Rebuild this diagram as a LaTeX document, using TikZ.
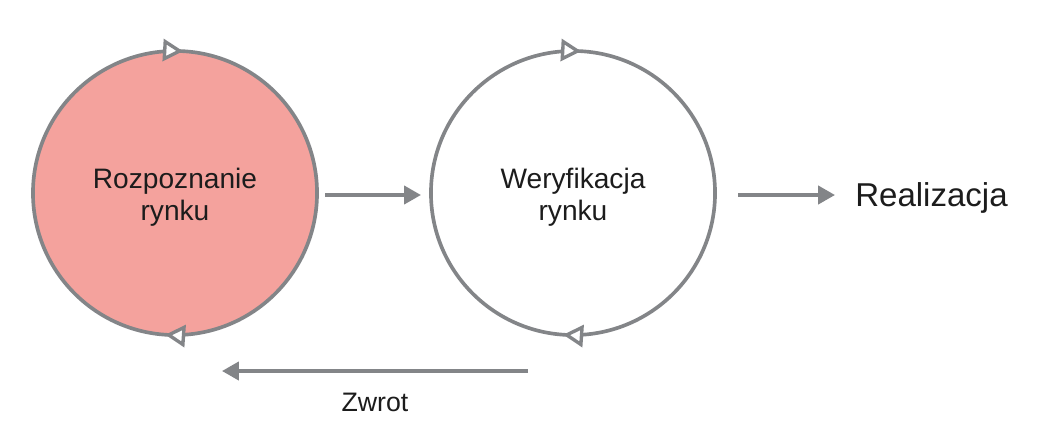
\documentclass[tikz,border=0pt]{standalone}
\usepackage{fontspec}
\setmainfont{Liberation Sans}
\usetikzlibrary{arrows.meta,decorations.markings}
\definecolor{ringgray}{HTML}{838588}
\definecolor{pinkfill}{HTML}{F4A29D}
\definecolor{txtdark}{HTML}{1C1C1C}
\tikzset{
  stage/.style={circle,minimum size=7.1cm,inner sep=0pt,outer sep=0pt},
  stagetext/.style={align=center,font=\fontsize{20}{23}\selectfont,text=txtdark,inner sep=0pt},
  ring/.style={draw=ringgray,line width=2.6pt,postaction={decorate},
    decoration={markings,
      mark=at position 0.241 with {\arrowreversed{Triangle[fill=white,length=0.5cm,width=0.55cm,line width=2.4pt]}},
      mark=at position 0.739 with {\arrowreversed{Triangle[fill=white,length=0.5cm,width=0.55cm,line width=2.4pt]}}}},
  flow/.style={draw=ringgray,line width=2.6pt,-{Triangle[length=0.42cm,width=0.45cm]}}
}
\begin{document}
\begin{tikzpicture}[x=0.025cm,y=-0.025cm]
\useasboundingbox (0,0) rectangle (1050,442);
\fill[white] (0,0) rectangle (1050,442);
% the two circles
\node[stage,fill=pinkfill] (rozp) at (175,193) {};
\node[stage] (weryf) at (573,193) {};
\draw[ring] (rozp.center) circle [radius=3.55cm];
\draw[ring] (weryf.center) circle [radius=3.55cm];
\node[stagetext] (rozpT) at (175,197) {Rozpoznanie\\rynku};
\node[stagetext] (weryfT) at (573,197) {Weryfikacja\\rynku};
% end point
\node[font=\fontsize{23.5}{28}\selectfont,text=txtdark,anchor=west,inner sep=0pt] (real) at (855,198) {Realizacja};
% arrows
\draw[flow,shorten <=0.2cm,shorten >=0.25cm] ([yshift=-0.05cm]rozp.east) -- ([yshift=-0.05cm]weryf.west);
\draw[flow,shorten <=0.58cm,shorten >=0.5cm] ([yshift=-0.05cm]weryf.east) -- ([yshift=-0.05cm]weryf.east -| real.west);
\coordinate (zwA) at (528,371);
\coordinate (zwB) at (222,371);
\draw[flow] (zwA) -- node[below=0.5cm,font=\fontsize{19}{23}\selectfont,text=txtdark,inner sep=0pt] (zwrot) {Zwrot} (zwB);
\end{tikzpicture}
\end{document}
